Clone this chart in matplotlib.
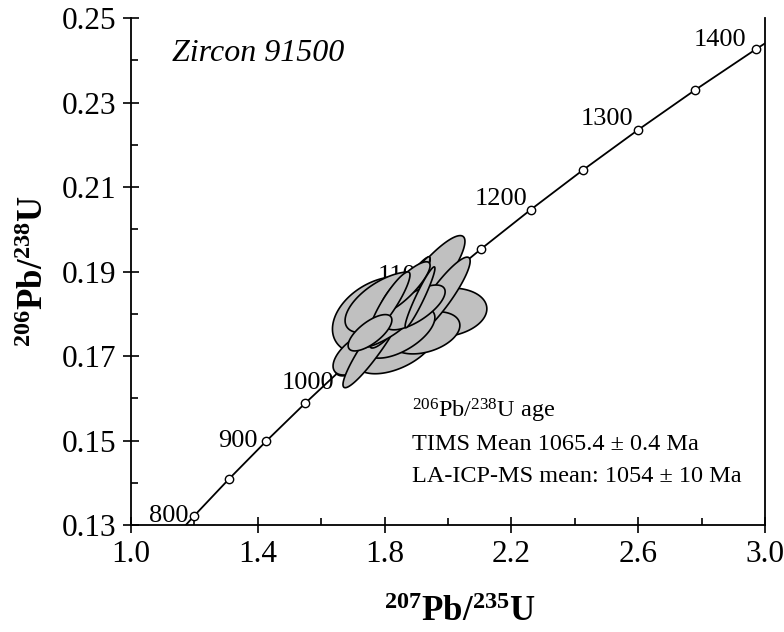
import numpy as np
import matplotlib
matplotlib.use("Agg")
import matplotlib.pyplot as plt

plt.rcParams['font.family'] = 'serif'
plt.rcParams['font.serif'] = ['Liberation Serif', 'DejaVu Serif']
plt.rcParams['mathtext.fontset'] = 'custom'
plt.rcParams['mathtext.rm'] = 'Liberation Serif'
plt.rcParams['mathtext.bf'] = 'Liberation Serif:bold'
plt.rcParams['mathtext.it'] = 'Liberation Serif:italic'

# concordia points (Ma), 207Pb/235U, 206Pb/238U
ages = [750, 800, 850, 900, 950, 1000, 1050, 1100, 1150, 1200, 1250, 1300, 1350, 1400, 1450]
pb207_u235 = [1.0930, 1.1987, 1.3097, 1.4263, 1.5488, 1.6774, 1.8126, 1.9545, 2.1037,
              2.2603, 2.4249, 2.5978, 2.7793, 2.9701, 3.1705]
pb206_u238 = [0.12338, 0.13213, 0.14094, 0.14983, 0.15878, 0.16780, 0.17690, 0.18606, 0.19530,
              0.20460, 0.21398, 0.22343, 0.23296, 0.24256, 0.25224]
labelled = [800, 900, 1000, 1100, 1200, 1300, 1400]

# LA-ICP-MS spot analyses: centre, 2 sigma and error correlation
spot_x = [1.7855, 1.9905, 1.7382, 1.7224, 1.8328, 1.9274, 1.8013, 1.9274, 1.9748,
          1.8486, 1.7697, 1.8486, 1.8801, 1.8328, 1.8013, 1.8959, 1.8644, 1.8170,
          1.7539, 1.9117]
spot_sx = [0.150, 0.132, 0.095, 0.085, 0.126, 0.110, 0.126, 0.126, 0.095,
           0.110, 0.101, 0.095, 0.063, 0.079, 0.095, 0.095, 0.079, 0.063,
           0.069, 0.047]
spot_y = [0.1796, 0.1803, 0.1720, 0.1708, 0.1720, 0.1755, 0.1827, 0.1870, 0.1839,
          0.1755, 0.1732, 0.1827, 0.1851, 0.1791, 0.1767, 0.1815, 0.1863, 0.1827,
          0.1755, 0.1839]
spot_sy = [0.0092, 0.0058, 0.0067, 0.0053, 0.0062, 0.0050, 0.0072, 0.0115, 0.0095,
           0.0060, 0.0107, 0.0107, 0.0084, 0.0072, 0.0048, 0.0053, 0.0060, 0.0072,
           0.0043, 0.0072]
spot_rho = [0.35, 0.15, 0.75, 0.6, 0.5, 0.35, 0.6, 0.88, 0.9,
            0.6, 0.93, 0.95, 0.95, 0.9, 0.8, 0.7, 0.85, 0.9,
            0.7, 0.95]

fig = plt.figure(figsize=(7.84, 6.32), dpi=100)
ax = fig.add_axes([0.1671, 0.1693, 0.8087, 0.8022])

ax.plot(pb207_u235, pb206_u238, color='black', lw=1.3, zorder=2)
ix = [ages.index(a) for a in range(800, 1401, 50)]
ax.plot([pb207_u235[i] for i in ix], [pb206_u238[i] for i in ix], 'o', ms=6,
        mfc='white', mec='black', mew=1.0, zorder=3)

offsets = {800: (-4, 0), 900: (-6, 0), 1000: (-8, -13), 1100: (-3, 9),
           1200: (-2, 8), 1300: (-3, 8), 1400: (-7, 7)}
for a in labelled:
    i = ages.index(a)
    ax.annotate(str(a), (pb207_u235[i], pb206_u238[i]), xytext=offsets[a],
                textcoords='offset points', ha='right', va='center', fontsize=19, zorder=1)

t = np.linspace(0, 2 * np.pi, 200)
for x0, sx, y0, sy, r in zip(spot_x, spot_sx, spot_y, spot_sy, spot_rho):
    cov = np.array([[sx * sx, r * sx * sy], [r * sx * sy, sy * sy]])
    L = np.linalg.cholesky(cov)
    pts = L @ np.vstack([np.cos(t), np.sin(t)])
    ax.fill(x0 + pts[0], y0 + pts[1], facecolor='#c0c0c0', edgecolor='black', lw=1.2, zorder=4)

ax.text(1.13, 0.2415, 'Zircon 91500', fontsize=23, style='italic', va='center')
ax.text(1.886, 0.1569, r'$^{206}$Pb/$^{238}$U age', fontsize=17.5, va='center')
ax.text(1.886, 0.1490, 'TIMS Mean 1065.4 ± 0.4 Ma', fontsize=17.5, va='center')
ax.text(1.886, 0.1414, 'LA-ICP-MS mean: 1054 ± 10 Ma', fontsize=17.5, va='center')

ax.set_xlim(1.0, 3.0)
ax.set_ylim(0.13, 0.25)
ax.set_xticks(np.arange(1.0, 3.01, 0.4))
ax.set_xticks(np.arange(1.2, 3.0, 0.4), minor=True)
ax.set_yticks(np.arange(0.13, 0.251, 0.02))
ax.set_yticks(np.arange(0.14, 0.25, 0.02), minor=True)
ax.xaxis.set_major_formatter(matplotlib.ticker.FormatStrFormatter('%.1f'))
ax.yaxis.set_major_formatter(matplotlib.ticker.FormatStrFormatter('%.2f'))
ax.tick_params(which='major', direction='inout', length=11, width=1.2, labelsize=22.5, pad=5)
ax.tick_params(which='minor', direction='in', length=5, width=1.2)
ax.spines['top'].set_visible(False)
for s in ['left', 'bottom', 'right']:
    ax.spines[s].set_linewidth(1.3)

ax.set_xlabel(r'$\mathbf{^{207}Pb/^{235}U}$', fontsize=25)
ax.set_ylabel(r'$\mathbf{^{206}Pb/^{238}U}$', fontsize=25)
ax.xaxis.set_label_coords(0.519, -0.14)
ax.yaxis.set_label_coords(-0.126, 0.5)

fig.savefig('out.png', dpi=100)
